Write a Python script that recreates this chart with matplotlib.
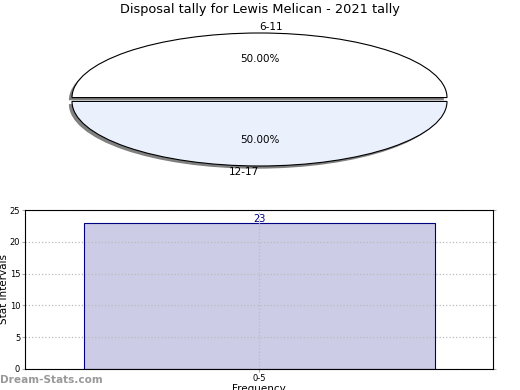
import matplotlib
matplotlib.use("Agg")
import matplotlib.pyplot as plt

title = "Disposal tally for Lewis Melican - 2021 tally"
pie_labels = ["6-11", "12-17"]
pie_values = [1, 1]
pie_colors = ["#ffffff", "#eaf0fc"]

bar_categories = ["0-5"]
bar_values = [23]

W, H = 520, 390
fig = plt.figure(figsize=(W / 100, H / 100), dpi=100)

def fx(px):
    return px / W

def fy(py):
    return 1 - py / H

# Pie
ax1 = fig.add_axes([fx(72), fy(166), fx(447) - fx(72), (166 - 33) / H])
wedges, texts, autotexts = ax1.pie(
    pie_values, labels=pie_labels, colors=pie_colors, autopct="%.2f%%",
    startangle=0, explode=[0.03, 0.03],
    shadow=dict(ox=-0.012, oy=-0.03, facecolor="#808080", alpha=1.0, edgecolor="none"),
    wedgeprops=dict(edgecolor="black", linewidth=0.8),
    textprops=dict(fontsize=7.5))
texts[0].set_ha("left")
texts[1].set_ha("right")
ax1.set_aspect("auto")
ax1.set_xlim(-1.0, 1.0)
ax1.set_ylim(-1.03, 1.03)
ax1.axis("off")
fig.text(0.5, fy(10), title, ha="center", va="center", fontsize=9.3)

# Bar
ax2 = fig.add_axes([fx(25), fy(369), fx(493) - fx(25), (369 - 210) / H])
x = list(range(len(bar_categories)))
bars = ax2.bar(x, bar_values, width=0.75, color="#ccccE6", edgecolor="#000080", linewidth=0.8, zorder=2)
for xi, v in zip(x, bar_values):
    ax2.annotate(str(v), (xi, v), xytext=(0, 3), textcoords="offset points",
                 ha="center", va="center", fontsize=7, color="#000080", zorder=3)
ax2.set_xlim(-0.5, 0.5)
ax2.set_ylim(0, 25)
ax2.set_yticks([0, 5, 10, 15, 20, 25])
ax2.set_xticks(x)
ax2.set_xticklabels(bar_categories)
ax2.tick_params(labelsize=6, length=2, color="#aaaaaa", right=True, pad=1.5)
ax2.grid(True, linestyle=":", color="#bbbbbb", linewidth=0.9, zorder=2.5)
ax2.set_axisbelow(False)
ax2.set_ylabel("Stat Intervals", fontsize=7.5)
ax2.yaxis.set_label_coords(-0.034, 0.5)
ax2.set_xlabel("Frequency", fontsize=7.5, labelpad=1)
for s in ax2.spines.values():
    s.set_linewidth(0.8)
    s.set_zorder(5)

fig.text(0.0, fy(380), "Dream-Stats.com", ha="left", va="center", fontsize=7.6,
         color="#999999", fontweight="bold")

fig.savefig("out.png", dpi=100)
